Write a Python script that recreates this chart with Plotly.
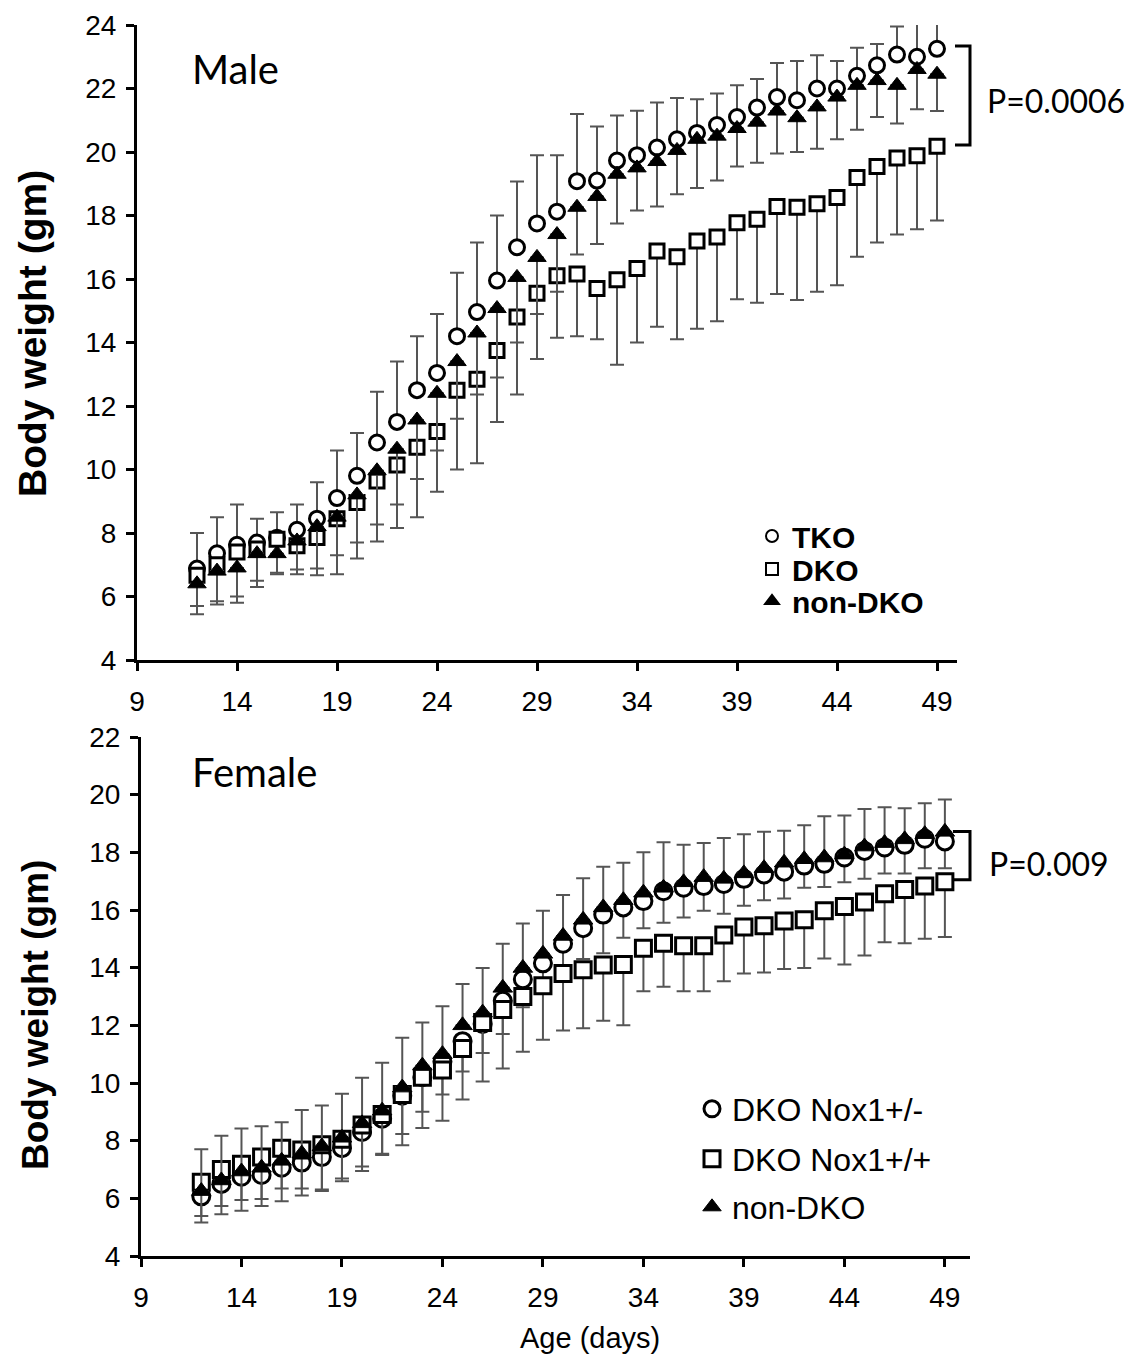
import plotly.graph_objects as go

# ---------------- data ----------------
days = list(range(12, 50))

# Male panel
male_tko = [6.88, 7.36, 7.63, 7.70, 7.85, 8.10, 8.45, 9.10, 9.80, 10.85, 11.50, 12.50, 13.04, 14.20,
            14.96, 15.95, 17.00, 17.75, 18.12, 19.08, 19.10, 19.73, 19.90, 20.14, 20.40, 20.60, 20.85,
            21.10, 21.40, 21.73, 21.63, 22.00, 22.00, 22.40, 22.73, 23.07, 23.00, 23.25]
male_dko = [6.67, 7.00, 7.40, 7.50, 7.80, 7.60, 7.86, 8.45, 8.96, 9.64, 10.14, 10.70, 11.20, 12.50,
            12.84, 13.75, 14.80, 15.55, 16.10, 16.16, 15.70, 15.98, 16.33, 16.88, 16.70, 17.20, 17.32,
            17.77, 17.88, 18.28, 18.26, 18.37, 18.57, 19.20, 19.54, 19.81, 19.88, 20.18]
male_non = [6.40, 6.80, 6.90, 7.35, 7.35, 7.75, 8.20, 8.50, 9.20, 9.96, 10.64, 11.56, 12.40, 13.40,
            14.30, 15.07, 16.05, 16.68, 17.40, 18.26, 18.60, 19.30, 19.50, 19.70, 20.05, 20.40, 20.50,
            20.74, 20.94, 21.29, 21.08, 21.42, 21.73, 22.10, 22.25, 22.10, 22.60, 22.45]
# error-bar end points
male_tko_hi = [8.00, 8.50, 8.90, 8.45, 8.65, 8.90, 9.60, 10.60, 11.15, 12.45, 13.40, 14.20, 14.90, 16.20,
               17.15, 18.00, 19.07, 19.90, 19.90, 21.20, 20.80, 21.15, 21.30, 21.56, 21.70, 21.66, 21.84,
               22.10, 22.30, 22.80, 22.87, 23.05, 22.87, 23.28, 23.40, 23.95, 24.04, 24.08]
male_non_lo = [5.70, 5.85, 6.00, 6.50, 6.75, 6.85, 6.88, 7.30, 7.70, 8.27, 8.90, 9.70, 10.60, 11.60,
               12.36, 12.90, 14.00, 14.90, 15.60, 16.77, 17.10, 17.75, 18.16, 18.28, 18.67, 18.87, 19.10,
               19.54, 19.66, 19.95, 20.00, 20.10, 20.40, 20.70, 21.10, 20.90, 21.35, 21.29]
male_dko_lo = [5.44, 5.75, 5.80, 6.30, 6.70, 6.70, 6.67, 6.70, 7.20, 7.73, 8.16, 8.50, 9.30, 10.00,
               10.20, 11.50, 12.36, 13.48, 14.15, 14.20, 14.10, 13.30, 14.00, 14.50, 14.10, 14.43, 14.67,
               15.36, 15.25, 15.53, 15.34, 15.60, 15.80, 16.70, 17.15, 17.40, 17.57, 17.84]

# Female panel
fem_het = [6.07, 6.50, 6.75, 6.81, 7.06, 7.24, 7.43, 7.74, 8.30, 8.76, 9.56, 10.20, 10.75, 11.45,
           12.05, 12.85, 13.60, 14.15, 14.83, 15.37, 15.84, 16.09, 16.31, 16.65, 16.77, 16.83, 16.90,
           17.08, 17.23, 17.33, 17.54, 17.60, 17.82, 18.05, 18.17, 18.26, 18.47, 18.38]
fem_wt = [6.56, 7.00, 7.18, 7.43, 7.74, 7.68, 7.86, 8.05, 8.54, 8.91, 9.60, 10.20, 10.45, 11.20,
          12.10, 12.55, 13.00, 13.37, 13.80, 13.93, 14.09, 14.11, 14.67, 14.85, 14.76, 14.76, 15.13,
          15.41, 15.45, 15.62, 15.66, 15.97, 16.12, 16.28, 16.56, 16.71, 16.83, 16.98]
fem_non = [6.25, 6.62, 6.93, 7.06, 7.30, 7.55, 7.80, 8.10, 8.60, 9.04, 9.84, 10.60, 11.00, 12.00,
           12.44, 13.30, 13.99, 14.48, 15.10, 15.66, 16.09, 16.34, 16.60, 16.77, 16.96, 17.14, 17.08,
           17.27, 17.45, 17.64, 17.76, 17.82, 17.92, 18.20, 18.32, 18.45, 18.63, 18.71]
fem_non_hi = [7.70, 8.17, 8.42, 8.50, 8.64, 9.06, 9.22, 9.63, 10.18, 10.70, 11.57, 12.10, 12.66, 13.43,
              13.99, 14.83, 15.53, 15.97, 16.52, 17.10, 17.50, 17.64, 18.00, 18.35, 18.26, 18.32, 18.50,
              18.63, 18.71, 18.75, 18.94, 19.25, 19.28, 19.50, 19.56, 19.53, 19.70, 19.83]
fem_het_lo = [5.39, 5.73, 5.94, 5.98, 6.34, 6.34, 6.31, 6.69, 7.10, 7.55, 8.23, 9.00, 9.60, 10.40,
              11.04, 11.70, 12.63, 13.20, 13.50, 14.30, 14.50, 15.04, 15.37, 15.56, 15.74, 15.97, 15.87,
              16.15, 16.34, 16.40, 16.77, 16.80, 16.96, 17.08, 17.27, 17.27, 17.45, 17.45]
fem_wt_lo = [5.16, 5.45, 5.57, 5.73, 5.90, 6.10, 6.25, 6.59, 6.95, 7.50, 7.84, 8.44, 8.69, 9.43,
             10.05, 10.50, 11.08, 11.50, 11.82, 11.90, 12.16, 12.00, 13.18, 13.34, 13.18, 13.18, 13.53,
             13.80, 13.83, 13.95, 13.99, 14.32, 14.11, 14.42, 14.88, 14.85, 15.00, 15.06]

male_names = ["TKO", "DKO", "non-DKO"]
female_names = ["DKO Nox1+/-", "DKO Nox1+/+", "non-DKO"]
x_ticks = [9, 14, 19, 24, 29, 34, 39, 44, 49]
male_y_ticks = list(range(4, 25, 2))
female_y_ticks = list(range(4, 23, 2))
male_p = "P=0.0006"
female_p = "P=0.009"
male_bracket = (23.34, 20.22)
female_bracket = (18.72, 17.05)

# ---------------- figure ----------------
W, H = 1138, 1357
OFF = 8  # page body margin: screen px = paper px + OFF


def px(v):
    return v - OFF


TOP_X = (px(137), px(957)); TOP_Y = (px(25), px(660))
BOT_X = (px(141), px(970)); BOT_Y = (px(737), px(1256))
TOP_XR = [9, 50]; TOP_YR = [4, 24]
BOT_XR = [9, 50.25]; BOT_YR = [4, 22]

ERR_COLOR = "#555555"
ARIAL = "Liberation Sans, Arial, sans-serif"
CALIBRI = "Lato, Noto Sans, sans-serif"
fig = go.Figure()


def diff(a, b):
    return [round(x - y, 3) for x, y in zip(a, b)]


zeros = [0] * len(days)


def add_series(name, y, hi, lo, sym, xa, ya, legend, filled, size):
    marker = dict(symbol=sym, size=size + (1 if sym == "triangle-up" else 0),
                  color="black" if filled else "white",
                  line=dict(color="black", width=3 if not filled else 1))
    fig.add_trace(go.Scatter(
        x=days, y=y, name=name, mode="markers", marker=marker,
        xaxis=xa, yaxis=ya, legend=legend,
        error_y=dict(type="data", symmetric=False,
                     array=diff(hi, y) if hi is not None else zeros,
                     arrayminus=diff(y, lo) if lo is not None else zeros,
                     color=ERR_COLOR, thickness=2, width=7),
        cliponaxis=False,
    ))


add_series(male_names[0], male_tko, male_tko_hi, None, "circle", "x", "y", "legend", False, 15)
add_series(male_names[1], male_dko, None, male_dko_lo, "square", "x", "y", "legend2", False, 14)
add_series(male_names[2], male_non, None, male_non_lo, "triangle-up", "x", "y", "legend3", True, 15)

add_series(female_names[0], fem_het, None, fem_het_lo, "circle", "x2", "y2", "legend4", False, 17)
add_series(female_names[1], fem_wt, None, fem_wt_lo, "square", "x2", "y2", "legend5", False, 16)
add_series(female_names[2], fem_non, fem_non_hi, None, "triangle-up", "x2", "y2", "legend6", True, 16)

tickfont = dict(family=ARIAL, size=28, color="black")
axis_common = dict(showgrid=False, zeroline=False, showline=True, linecolor="black", linewidth=3,
                   ticks="outside", ticklen=8, tickwidth=3, tickcolor="black", tickfont=tickfont,
                   automargin=False, fixedrange=True)

legend_rows = {
    "legend": (px(752), px(536), 30, "bold", "constant"),
    "legend2": (px(752), px(569), 30, "bold", "constant"),
    "legend3": (px(752), px(601), 30, "bold", "constant"),
    "legend4": (px(692), px(1109), 32, "normal", "trace"),
    "legend5": (px(692), px(1159), 32, "normal", "trace"),
    "legend6": (px(692), px(1207), 32, "normal", "trace"),
}
legends = {}
for key, (lx, ly, fs, fw, isz) in legend_rows.items():
    legends[key] = dict(x=lx / W, y=1 - ly / H, xanchor="left", yanchor="middle",
                        font=dict(family=ARIAL, size=fs, color="black", weight=fw),
                        bgcolor="rgba(0,0,0,0)", itemwidth=30, itemsizing=isz,
                        borderwidth=0)

fig.update_layout(
    width=W, height=H, paper_bgcolor="white", plot_bgcolor="white",
    margin=dict(l=0, r=0, t=0, b=0),
    xaxis=dict(domain=[TOP_X[0] / W, TOP_X[1] / W], range=TOP_XR, tickvals=x_ticks,
               anchor="y", ticklabelstandoff=6, **axis_common),
    yaxis=dict(domain=[1 - TOP_Y[1] / H, 1 - TOP_Y[0] / H], range=TOP_YR, tickvals=male_y_ticks,
               anchor="x", ticklabelstandoff=4, **axis_common),
    xaxis2=dict(domain=[BOT_X[0] / W, BOT_X[1] / W], range=BOT_XR, tickvals=x_ticks,
                anchor="y2", ticklabelstandoff=6, **axis_common),
    yaxis2=dict(domain=[1 - BOT_Y[1] / H, 1 - BOT_Y[0] / H], range=BOT_YR, tickvals=female_y_ticks,
                anchor="x2", ticklabelstandoff=4, **axis_common),
    showlegend=True,
    **legends,
)


def P(xp, yp):
    return dict(xref="paper", yref="paper", x=px(xp) / W, y=1 - px(yp) / H)


annos = [
    dict(text="Body weight (gm)", textangle=-90, showarrow=False, xanchor="center", yanchor="middle",
         font=dict(family=ARIAL, size=39, color="black", weight="bold"), **P(32, 334)),
    dict(text="Body weight (gm)", textangle=-90, showarrow=False, xanchor="center", yanchor="middle",
         font=dict(family=ARIAL, size=37, color="black", weight="bold"), **P(36, 1015)),
    dict(text="Age (days)", showarrow=False, xanchor="center", yanchor="middle",
         font=dict(family=ARIAL, size=29, color="black"), **P(590, 1338)),
    dict(text="Male", showarrow=False, xanchor="left", yanchor="middle",
         font=dict(family=CALIBRI, size=40, color="black"), **P(190, 69)),
    dict(text="Female", showarrow=False, xanchor="left", yanchor="middle",
         font=dict(family=CALIBRI, size=40, color="black"), **P(190, 772)),
]


def dom(v, r):
    return (v - r[0]) / (r[1] - r[0])


# significance brackets (from the last data column to the P label)
shapes = []
for xa, ya, xr, yr, br, ptxt, bx, pxy in [
        ("x", "y", TOP_XR, TOP_YR, male_bracket, male_p, (49.9, 50.65), (985, 100)),
        ("x2", "y2", BOT_XR, BOT_YR, female_bracket, female_p, (49.4, 50.25), (987, 863))]:
    x0, x1 = dom(bx[0], xr), dom(bx[1], xr)
    y0, y1 = dom(br[0], yr), dom(br[1], yr)
    shapes.append(dict(type="path", xref=xa + " domain", yref=ya + " domain",
                       path=f"M {x0} {y0} L {x1} {y0} L {x1} {y1} L {x0} {y1}",
                       line=dict(color="black", width=3)))
    annos.append(dict(text=ptxt, showarrow=False, xanchor="left", yanchor="middle",
                      font=dict(family=CALIBRI, size=32, color="black"), **P(*pxy)))

fig.update_layout(annotations=annos, shapes=shapes)
fig.write_html("out.html")
